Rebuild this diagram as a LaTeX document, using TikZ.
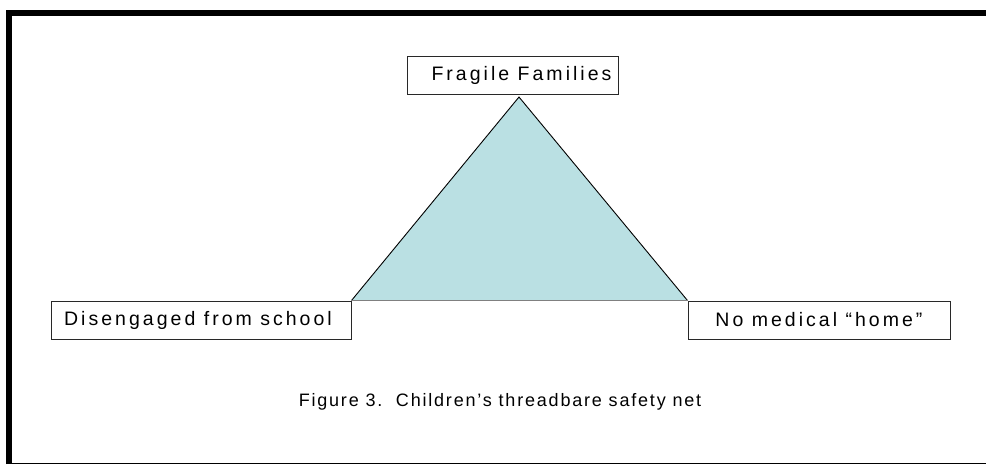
\documentclass[tikz,border=0pt]{standalone}
\usepackage{fontspec}
\setmainfont{Liberation Sans}[LetterSpace=15.5]
\newfontfamily\capfont{Liberation Sans}[LetterSpace=10]
\definecolor{netfill}{RGB}{186,224,227}
\definecolor{boxline}{RGB}{40,40,40}
\begin{document}
\begin{tikzpicture}[x=1pt,y=-1pt,
  labelbox/.style={draw=boxline,line width=0.9pt,fill=white,minimum height=38pt,inner sep=0pt,font=\fontsize{19.5}{22}\selectfont},
  frameline/.style={line width=6pt,black}]
\useasboundingbox (0,0) rectangle (986,464);
% frame
\draw[frameline] (9,464) -- (9,13) -- (986,13);
\draw[line width=1pt] (12,463.5) -- (986,463.5);
% triangle
\node[labelbox,minimum width=300pt] (ds) at (201,320) {};
\node[labelbox,minimum width=262pt] (nm) at (819,320) {};
\coordinate (apex) at (519,97);
\fill[netfill] (apex) -- (ds.north east) -- (nm.north west) -- cycle;
\draw[line width=0.9pt] (ds.north east) -- (apex) -- (nm.north west);
\draw[line width=0.9pt,gray] (ds.north east) -- (nm.north west);
\node[labelbox,minimum width=211pt] (ff) at (512.5,75) {\hspace*{18pt}Fragile Families};
\node[labelbox,minimum width=300pt] (dst) at (201,320) {Disengaged from school\hspace*{6pt}};
\node[labelbox,minimum width=262pt] (nmt) at (819,320) {No medical “home”};
\node[font=\capfont\fontsize{18}{20}\selectfont,inner sep=0pt] (cap) at (500,402) {Figure 3.\ \ Children’s threadbare safety net};
\end{tikzpicture}
\end{document}
